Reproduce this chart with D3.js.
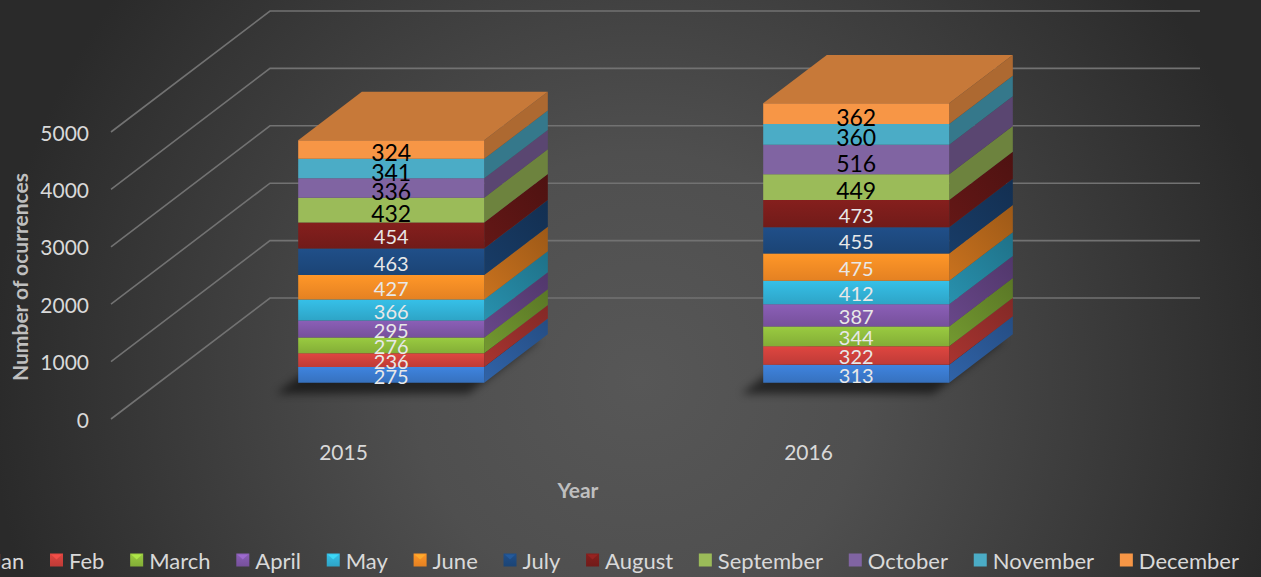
<!DOCTYPE html>
<html>
<head>
<meta charset="utf-8">
<script src="https://cdnjs.cloudflare.com/ajax/libs/d3/7.8.5/d3.min.js"></script>
<style>
    body { margin: 0; background: #2a2a2a; overflow: hidden; }
    svg { display: block; }
    text { font-family: Lato, "Open Sans", sans-serif; }
</style>
</head>
<body>
<svg id="chart" width="1261" height="577"></svg>
<script>
"use strict";

var years = ["2015", "2016"];
var months = ["Jan", "Feb", "March", "April", "May", "June", "July", "August",
    "September", "October", "November", "December"];
var values2015 = [275, 236, 276, 295, 366, 427, 463, 454, 432, 336, 341, 324];
var values2016 = [313, 322, 344, 387, 412, 475, 455, 473, 449, 516, 360, 362];
var yTicks = [0, 1000, 2000, 3000, 4000, 5000];
var monthColors = ["#3b7bd0", "#d0413c", "#8fbd3c", "#8158aa", "#32b3d8", "#f98d25",
    "#1e4a80", "#7c1d1b", "#9bbb59", "#8064a2", "#4bacc6", "#f79646"];

var width = 1261;
var height = 577;
var depthX = 159;
var depthY = 121;
var barFront = 0.3;
var barBack = 0.7;
var beveledCount = 8; // Jan..August are drawn with the shaded style
var textColor = "#d9d9d9";

var svg = d3.select("#chart");
var defs = svg.append("defs");

// ---- background
var bg = defs.append("radialGradient")
    .attr("id", "bg")
    .attr("gradientUnits", "userSpaceOnUse")
    .attr("cx", 640).attr("cy", 380).attr("r", 650);
bg.append("stop").attr("offset", "0%").attr("stop-color", "#575757");
bg.append("stop").attr("offset", "35%").attr("stop-color", "#4f4f4f");
bg.append("stop").attr("offset", "100%").attr("stop-color", "#2a2a2a");
svg.append("rect")
    .attr("width", width)
    .attr("height", height)
    .attr("fill", "url(#bg)");

var blur = defs.append("filter").attr("id", "shadowBlur")
    .attr("x", "-20%").attr("y", "-50%").attr("width", "140%").attr("height", "200%");
blur.append("feGaussianBlur").attr("stdDeviation", 4);

monthColors.forEach(function (c, i) {
    var base = d3.color(c);
    var g = defs.append("linearGradient")
        .attr("id", "front" + i)
        .attr("x1", "0%").attr("y1", "0%").attr("x2", "0%").attr("y2", "100%");
    g.append("stop").attr("offset", "0%").attr("stop-color", base.brighter(0.2));
    g.append("stop").attr("offset", "100%").attr("stop-color", base.darker(0.25));
    var s = defs.append("linearGradient")
        .attr("id", "side" + i)
        .attr("x1", "0%").attr("y1", "100%").attr("x2", "100%").attr("y2", "0%");
    s.append("stop").attr("offset", "0%").attr("stop-color", base.darker(0.6));
    s.append("stop").attr("offset", "100%").attr("stop-color", base.darker(1.3));
});

// ---- scales
var x = d3.scaleBand()
    .domain(years)
    .range([111, 1041])
    .paddingInner(0.6)
    .paddingOuter(0.3);

var y = d3.scaleLinear()
    .domain([0, 5000])
    .range([419, 132]);

var project = function (px, v, z) {
    return [px + z * depthX, y(v) - z * depthY];
};

var polygon = function (pts) {
    return pts.map(function (p) { return p[0] + "," + p[1]; }).join(" ");
};

// ---- gridlines: left wall diagonals + back wall
var grid = svg.append("g").attr("class", "grid");
grid.selectAll("polyline")
    .data(yTicks)
    .enter()
    .append("polyline")
    .attr("points", function (t) {
        var x0 = x.range()[0];
        var x1 = x.range()[1];
        return polygon([project(x0, t, 0), project(x0, t, 1), project(x1, t, 1)]);
    })
    .attr("fill", "none")
    .attr("stroke", "#727272")
    .attr("stroke-width", 1.6);

// ---- y axis labels
svg.append("g").selectAll("text")
    .data(yTicks)
    .enter()
    .append("text")
    .attr("x", 89)
    .attr("y", function (t) { return y(t); })
    .attr("text-anchor", "end")
    .attr("dominant-baseline", "central")
    .attr("fill", textColor)
    .attr("font-size", 21)
    .text(function (t) { return t; });

// ---- stacked data
var rows = years.map(function (yr, i) {
    var row = { year: yr };
    var vals = i === 0 ? values2015 : values2016;
    months.forEach(function (m, j) { row[m] = vals[j]; });
    return row;
});
var stacked = d3.stack().keys(months)(rows);

// ---- shadows
svg.append("g").selectAll("polygon")
    .data(rows)
    .enter()
    .append("polygon")
    .attr("points", function (d) {
        var bx0 = x(d.year) - 10;
        var bx1 = x(d.year) + x.bandwidth() - 4;
        return polygon([project(bx0, 0, barFront - 0.05), project(bx1, 0, barFront - 0.05),
            project(bx1, 0, barBack), project(bx0, 0, barBack)]);
    })
    .attr("transform", "translate(-4,5)")
    .attr("fill", "#000")
    .attr("opacity", 0.55)
    .attr("filter", "url(#shadowBlur)");

// ---- bars
var bars = svg.append("g").attr("class", "bars");
stacked.forEach(function (series, i) {
    var layer = bars.append("g").attr("class", "layer-" + i);

    layer.selectAll(".side")
        .data(series)
        .enter()
        .append("polygon")
        .attr("class", "side")
        .attr("points", function (d) {
            var bx1 = x(d.data.year) + x.bandwidth();
            return polygon([project(bx1, d[0], barFront), project(bx1, d[0], barBack),
                project(bx1, d[1], barBack), project(bx1, d[1], barFront)]);
        })
        .attr("fill", i < beveledCount ? "url(#side" + i + ")" : d3.color(monthColors[i]).darker(1.0));

    layer.selectAll(".front")
        .data(series)
        .enter()
        .append("polygon")
        .attr("class", "front")
        .attr("points", function (d) {
            var bx0 = x(d.data.year);
            var bx1 = bx0 + x.bandwidth();
            return polygon([project(bx0, d[0], barFront), project(bx1, d[0], barFront),
                project(bx1, d[1], barFront), project(bx0, d[1], barFront)]);
        })
        .attr("fill", i < beveledCount ? "url(#front" + i + ")" : monthColors[i]);
});

// top face of the last segment
var topSeries = stacked[stacked.length - 1];
bars.append("g").selectAll("polygon")
    .data(topSeries)
    .enter()
    .append("polygon")
    .attr("points", function (d) {
        var bx0 = x(d.data.year);
        var bx1 = bx0 + x.bandwidth();
        return polygon([project(bx0, d[1], barFront), project(bx1, d[1], barFront),
            project(bx1, d[1], barBack), project(bx0, d[1], barBack)]);
    })
    .attr("fill", d3.color(monthColors[monthColors.length - 1]).darker(0.6));

// ---- data labels
var labels = svg.append("g").attr("class", "labels");
stacked.forEach(function (series, i) {
    labels.selectAll(".lbl-" + i)
        .data(series)
        .enter()
        .append("text")
        .attr("class", "lbl-" + i)
        .attr("x", function (d) {
            return project(x(d.data.year) + x.bandwidth() / 2, 0, barFront)[0];
        })
        .attr("y", function (d) {
            return project(0, (d[0] + d[1]) / 2, barFront)[1] + (i < beveledCount ? 1 : 3);
        })
        .attr("text-anchor", "middle")
        .attr("dominant-baseline", "central")
        .attr("font-size", i < beveledCount ? 20 : 23)
        .attr("fill", i < beveledCount ? "#e8e8e8" : "#000")
        .text(function (d) { return d[1] - d[0]; });
});

// ---- category labels
svg.append("g").selectAll("text")
    .data(years)
    .enter()
    .append("text")
    .attr("x", function (d) { return x(d) + x.bandwidth() / 2; })
    .attr("y", y(0) + 32)
    .attr("text-anchor", "middle")
    .attr("dominant-baseline", "central")
    .attr("fill", textColor)
    .attr("font-size", 21)
    .text(function (d) { return d; });

// ---- axis titles
svg.append("text")
    .attr("transform", "translate(19,277) rotate(-90)")
    .attr("text-anchor", "middle")
    .attr("dominant-baseline", "central")
    .attr("fill", "#bfbfbf")
    .attr("font-size", 21)
    .attr("font-weight", "bold")
    .text("Number of ocurrences");

svg.append("text")
    .attr("x", 578)
    .attr("y", 489)
    .attr("text-anchor", "middle")
    .attr("dominant-baseline", "central")
    .attr("fill", "#bfbfbf")
    .attr("font-size", 21)
    .attr("font-weight", "bold")
    .text("Year");

// ---- legend
var markerSize = 13;
var markerGap = 6;
var legendY = 560;
var legend = svg.append("g").attr("class", "legend");
var entries = legend.selectAll("g")
    .data(months)
    .enter()
    .append("g");

entries.append("text")
    .attr("y", legendY)
    .attr("dominant-baseline", "central")
    .attr("fill", textColor)
    .attr("font-size", 22)
    .text(function (d) { return d; });

var textWidths = [];
entries.select("text").each(function () { textWidths.push(this.getComputedTextLength()); });

// Feb marker starts at 50, December text ends at 1239
var span = 1239 - 50;
var used = 0;
for (var k = 1; k < months.length; k++) {
    used += markerSize + markerGap + textWidths[k];
}
var itemGap = (span - used) / (months.length - 2);
var positions = [];
var cursor = 50;
for (var k2 = 1; k2 < months.length; k2++) {
    positions[k2] = cursor;
    cursor += markerSize + markerGap + textWidths[k2] + itemGap;
}
positions[0] = 50 - itemGap - textWidths[0] - markerGap - markerSize;

entries.attr("transform", function (d, i) { return "translate(" + positions[i] + ",0)"; });
entries.select("text").attr("x", markerSize + markerGap);

entries.append("rect")
    .attr("y", legendY - markerSize / 2)
    .attr("width", markerSize)
    .attr("height", markerSize)
    .attr("fill", function (d, i) { return i < beveledCount ? "url(#front" + i + ")" : monthColors[i]; });

entries.filter(function (d, i) { return i < beveledCount; })
    .append("polygon")
    .attr("points", function () {
        var t = legendY - markerSize / 2;
        return polygon([[1, t + 1], [markerSize - 1, t + 1], [markerSize / 2, t + 6]]);
    })
    .attr("fill", function (d, i) { return d3.color(monthColors[i]).brighter(0.7); })
    .attr("opacity", 0.7);
</script>
</body>
</html>
